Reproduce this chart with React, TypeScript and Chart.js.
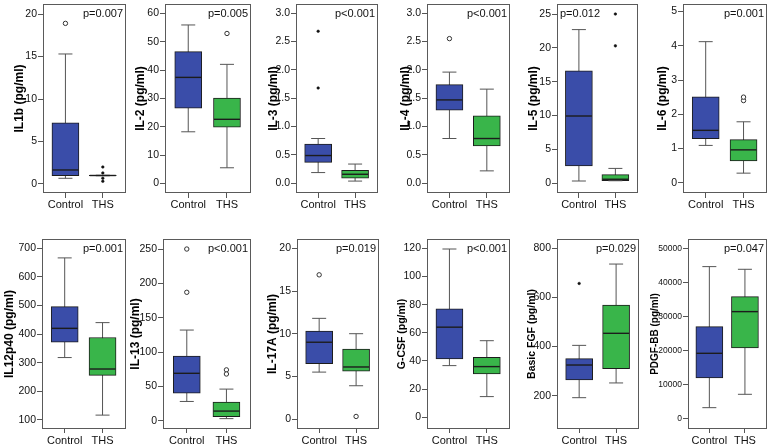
import React, { useEffect, useRef } from "react";
import { Chart, registerables } from "chart.js";
Chart.register(...registerables);

// ---------- data ----------
const groups = ["Control", "THS"];
const yTitles = [
  "IL1b (pg/ml)", "IL-2 (pg/ml)", "IL-3 (pg/ml)", "IL-4 (pg/ml)", "IL-5 (pg/ml)", "IL-6 (pg/ml)",
  "IL12p40 (pg/ml)", "IL-13 (pg/ml)", "IL-17A (pg/ml)", "G-CSF (pg/ml)", "Basic FGF (pg/ml)", "PDGF-BB (pg/ml)",
];
const pValues = [
  "p=0.007", "p=0.005", "p<0.001", "p<0.001", "p=0.012", "p=0.001",
  "p=0.001", "p<0.001", "p=0.019", "p<0.001", "p=0.029", "p=0.047",
];
// [min whisker, Q1, median, Q3, max whisker]
const controlStats = [
  [0.67, 0.98, 1.65, 7.2, 15.3],
  [18.2, 26.5, 37.4, 46.5, 55.9],
  [0.19, 0.37, 0.49, 0.69, 0.79],
  [0.79, 1.29, 1.47, 1.74, 1.96],
  [0.34, 2.56, 9.94, 16.6, 22.7],
  [1.09, 1.29, 1.53, 2.51, 4.12],
  [318, 372, 420, 496, 666],
  [28, 40, 69, 94, 132],
  [5.5, 6.5, 9.0, 10.3, 11.8],
  [36.7, 41.4, 64, 77, 119.5],
  [192, 264, 325, 351, 405],
  [3320, 12000, 19240, 27050, 44630],
];
const thsStats = [
  [0.97, 0.97, 1.0, 1.03, 1.03],
  [5.5, 19.8, 22.6, 30.1, 42],
  [0.04, 0.09, 0.16, 0.23, 0.34],
  [0.22, 0.66, 0.79, 1.19, 1.66],
  [0.38, 0.39, 0.6, 1.28, 2.2],
  [0.28, 0.64, 0.96, 1.26, 1.78],
  [117, 256, 278, 388, 440],
  [3, 6, 14, 27, 46],
  [3.9, 5.6, 6.1, 8.2, 10.0],
  [14.7, 30.8, 36, 42.6, 54.4],
  [252, 310, 454, 569, 736],
  [7230, 20800, 31450, 35840, 43850],
];
// open-circle outliers
const controlOutliers = [[18.9], [], [], [2.55], [], [], [], [250, 187], [16.9], [], [], []];
const thsOutliers = [[], [52.9], [], [], [], [2.4, 2.5], [], [74, 68], [0.3], [], [], []];
// filled-dot extremes
const controlExtremes = [[], [], [2.68, 1.68], [], [], [], [], [], [], [], [657], []];
const thsExtremes = [[2.0, 1.3, 0.68, 0.32], [], [], [], [25, 20.3], [], [], [], [], [], [], []];
const yTicks = [
  [0, 5, 10, 15, 20],
  [0, 10, 20, 30, 40, 50, 60],
  [0, 0.5, 1, 1.5, 2, 2.5, 3],
  [0, 0.5, 1, 1.5, 2, 2.5, 3],
  [0, 5, 10, 15, 20, 25],
  [0, 1, 2, 3, 4, 5],
  [100, 200, 300, 400, 500, 600, 700],
  [0, 50, 100, 150, 200, 250],
  [0, 5, 10, 15, 20],
  [0, 20, 40, 60, 80, 100, 120],
  [200, 400, 600, 800],
  [0, 10000, 20000, 30000, 40000, 50000],
];
const yMin = [-1.06, -3.4, -0.17, -0.17, -1.43, -0.3, 68.5, -12.1, -1.17, -8.3, 64.5, -2930];
const yMax = [21.18, 63.3, 3.16, 3.16, 26.48, 5.22, 732, 264.6, 21.1, 126.6, 838, 52720];
const tickDecimals = [0, 0, 1, 1, 0, 0, 0, 0, 0, 0, 0, 0];

// ---------- layout / style ----------
const frameLeft = [43, 165, 296, 427, 557, 683, 42, 163, 297, 427, 557, 688];
const frameRight = [126, 251, 378, 510, 638, 767, 126, 251, 379, 510, 639, 767];
const titleGap = [24, 25, 23, 22, 24, 21, 33, 28, 25, 25, 25, 33];
const titleSize = [12, 12, 12, 12, 12, 12, 12, 12, 12, 10.5, 10.5, 10];
const tickSize = [10.5, 10.5, 10.5, 10.5, 10.5, 10.5, 10.5, 10.5, 10.5, 10.5, 10.5, 8.5];
const pLeft = [false, false, false, false, true, false, false, false, false, false, false, false];
const rowTop = [4, 239];
const rowBottom = [193, 429];
const rowXAxisH = [22, 19];
const rowTickLen = [5, 4];
const rowLabelPad = [0, 1];
const FONT = "'Liberation Sans', Arial, Helvetica, sans-serif";
const BLUE = "#3A4DA9";
const GREEN = "#39B54A";
const DARK = "#1c1c1c";
const GREY = "#555555";

const framePlugin = {
  id: "frameP",
  afterDatasetsDraw(chart: any, _a: any, opts: any) {
    const { ctx, chartArea } = chart;
    const { left, top, right, bottom } = chartArea;
    ctx.save();
    ctx.strokeStyle = "#5a5a5a";
    ctx.lineWidth = 1;
    ctx.strokeRect(Math.round(left) + 0.5, Math.round(top) + 0.5, Math.round(right - left) - 1, Math.round(bottom - top) - 1);
    ctx.fillStyle = "#111";
    ctx.font = `11px ${FONT}`;
    ctx.textBaseline = "middle";
    if (opts.left) {
      ctx.textAlign = "left";
      ctx.fillText(opts.text, left + 3, top + 10);
    } else {
      ctx.textAlign = "right";
      ctx.fillText(opts.text, right - 3, top + 10);
    }
    ctx.restore();
  },
};

function Panel({ i }: { i: number }) {
  const ref = useRef<HTMLCanvasElement>(null);
  const row = i < 6 ? 0 : 1;
  const axisW = Math.round(titleGap[i] + titleSize[i] * 0.6);
  const padTop = 4;
  const padRight = 2;
  const left = frameLeft[i] - axisW;
  const top = rowTop[row] - padTop;
  const width = frameRight[i] - left + padRight;
  const height = rowBottom[row] - top + rowXAxisH[row];

  useEffect(() => {
    const c = controlStats[i];
    const t = thsStats[i];
    const st = [c, t];
    const grid = {
      drawOnChartArea: false,
      drawTicks: true,
      tickLength: rowTickLen[row],
      color: GREY,
      offset: false,
    };
    const chart = new Chart(ref.current as HTMLCanvasElement, {
      type: "bar",
      data: {
        datasets: [
          {
            type: "scatter",
            order: 0,
            data: [
              ...controlOutliers[i].map((y) => ({ x: 0, y })),
              ...thsOutliers[i].map((y) => ({ x: 1, y })),
            ],
            pointStyle: "circle",
            pointRadius: 2.2,
            pointBorderWidth: 1,
            pointBorderColor: "#333",
            pointBackgroundColor: "#fff",
          } as any,
          {
            type: "scatter",
            order: 0,
            data: [
              ...controlExtremes[i].map((y) => ({ x: 0, y })),
              ...thsExtremes[i].map((y) => ({ x: 1, y })),
            ],
            pointStyle: "circle",
            pointRadius: 1.3,
            pointBorderWidth: 0.5,
            pointBorderColor: "#111",
            pointBackgroundColor: "#111",
          } as any,
          {
            type: "scatter",
            order: 1,
            data: st.map((s, g) => ({ x: g, y: s[2] })),
            pointStyle: "line",
            pointRadius: 13,
            pointBorderWidth: 1.4,
            pointBorderColor: DARK,
          } as any,
          {
            type: "scatter",
            order: 1,
            data: [
              { x: 0, y: c[0] }, { x: 0, y: c[4] },
              { x: 1, y: t[0] }, { x: 1, y: t[4] },
            ],
            pointStyle: "line",
            pointRadius: 7,
            pointBorderWidth: 1,
            pointBorderColor: GREY,
          } as any,
          {
            type: "bar",
            order: 2,
            data: st.map((s, g) => ({ x: g, y: [s[1], s[3]] })),
            backgroundColor: [BLUE, GREEN],
            borderColor: DARK,
            borderWidth: 1,
            borderSkipped: false,
            barThickness: 27,
          } as any,
          {
            type: "scatter",
            order: 3,
            showLine: true,
            data: [{ x: 0, y: c[0] }, { x: 0, y: c[4] }],
            pointRadius: 0,
            borderWidth: 1,
            borderColor: GREY,
          } as any,
          {
            type: "scatter",
            order: 3,
            showLine: true,
            data: [{ x: 1, y: t[0] }, { x: 1, y: t[4] }],
            pointRadius: 0,
            borderWidth: 1,
            borderColor: GREY,
          } as any,
        ],
      },
      options: {
        responsive: false,
        animation: false,
        devicePixelRatio: 1,
        events: [],
        layout: { autoPadding: false, padding: { top: padTop, right: padRight, left: 0, bottom: 0 } },
        plugins: {
          legend: { display: false },
          tooltip: { enabled: false },
          frameP: { text: pValues[i], left: pLeft[i] },
        } as any,
        scales: {
          x: {
            type: "linear",
            min: -0.6,
            max: 1.62,
            offset: false,
            afterBuildTicks: (s: any) => {
              s.ticks = [{ value: 0 }, { value: 1 }];
            },
            afterFit: (s: any) => {
              s.height = rowXAxisH[row];
              s.paddingLeft = 0;
              s.paddingRight = 0;
            },
            grid,
            border: { display: false },
            ticks: {
              autoSkip: false,
              maxRotation: 0,
              padding: rowLabelPad[row],
              color: "#111",
              font: { family: FONT, size: 11 },
              callback: (v: any) => (v === 0 ? groups[0] : v === 1 ? groups[1] : ""),
            },
          },
          y: {
            type: "linear",
            min: yMin[i],
            max: yMax[i],
            afterBuildTicks: (s: any) => {
              s.ticks = yTicks[i].map((v) => ({ value: v }));
            },
            afterFit: (s: any) => {
              s.width = axisW;
              s.paddingTop = 0;
              s.paddingBottom = 0;
            },
            grid: { ...grid, tickLength: 5 },
            border: { display: false },
            title: {
              display: true,
              text: yTitles[i],
              color: "#000",
              padding: 0,
              font: { family: FONT, size: titleSize[i], weight: "bold" },
            },
            ticks: {
              autoSkip: false,
              padding: 1,
              color: "#111",
              font: { family: FONT, size: tickSize[i] },
              callback: (v: any) => Number(v).toFixed(tickDecimals[i]),
            },
          },
        } as any,
      },
      plugins: [framePlugin as any],
    } as any);
    return () => chart.destroy();
  }, []);

  return (
    <canvas
      ref={ref}
      width={width}
      height={height}
      style={{ position: "absolute", left, top, width, height }}
    />
  );
}

export default function App() {
  return (
    <div
      style={{
        position: "absolute",
        left: 0,
        top: 0,
        width: 770,
        height: 448,
        overflow: "hidden",
        background: "#fff",
      }}
    >
      {yTitles.map((_, i) => (
        <Panel key={i} i={i} />
      ))}
    </div>
  );
}
